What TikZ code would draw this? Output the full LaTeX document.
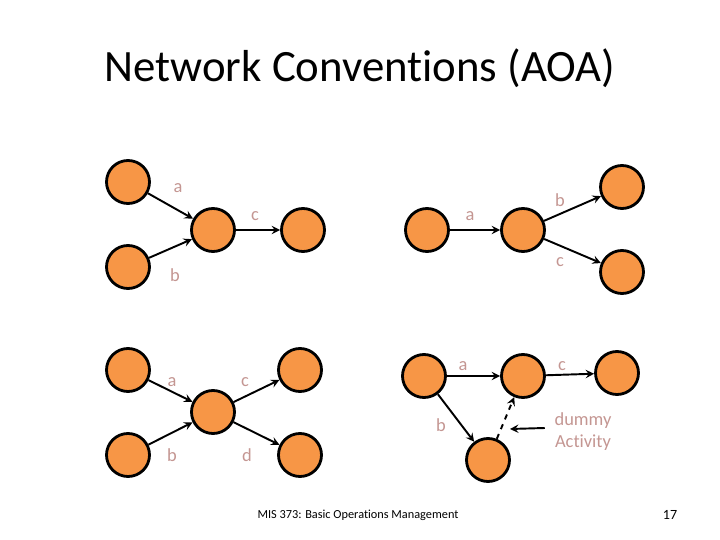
\documentclass[tikz,border=0pt]{standalone}
\usepackage{fontspec}
\setmainfont[Ligatures=NoCommon]{Carlito}
\definecolor{evfill}{RGB}{247,150,70}
\definecolor{lblcol}{RGB}{196,150,146}
\begin{document}
\begin{tikzpicture}
	[x=0.02cm,y=-0.02cm,line width=1.1pt,
	ev/.style = {
		draw, circle, fill=evfill, line width=1.6pt,
		minimum size=0.86cm, inner sep=0cm
	},
	act/.style = {
		->, >=stealth, line width=1.1pt
	},
	lbl/.style = {
		text=lblcol, font=\fontsize{10.5}{12.5}\selectfont
	}]
	\useasboundingbox (0,0) rectangle (720,540);

	%Title and footer
	\node at (360,68) (title) {\fontsize{25.5}{30}\selectfont Network Conventions (AOA)};
	\node at (358,515) (foot) {\fontsize{7}{8}\selectfont MIS 373: Basic Operations Management};
	\node at (670,515) (page) {\fontsize{8}{9}\selectfont 17};

	%Top left: merge
	\node[ev] at (128,182) (p1) {};
	\node[ev] at (128,267) (p2) {};
	\node[ev] at (213,230) (p3) {};
	\node[ev] at (303,230) (p4) {};
	\draw[act] (p1) -- (p3);
	\draw[act] (p2) -- (p3);
	\draw[act] (p3) -- (p4);
	\node[lbl] at (178,188) {a};
	\node[lbl] at (175,275) {b};
	\node[lbl] at (255,216) {c};

	%Top right: burst
	\node[ev] at (427,230) (q1) {};
	\node[ev] at (523,230) (q2) {};
	\node[ev] at (622,187) (q3) {};
	\node[ev] at (622,272) (q4) {};
	\draw[act] (q1) -- (q2);
	\draw[act] (q2) -- (q3);
	\draw[act] (q2) -- (q4);
	\node[lbl] at (470,216) {a};
	\node[lbl] at (560,200) {b};
	\node[lbl] at (560,262) {c};

	%Bottom left: merge and burst
	\node[ev] at (128,370) (r1) {};
	\node[ev] at (128,455) (r2) {};
	\node[ev] at (213,412) (r3) {};
	\node[ev] at (300,370) (r4) {};
	\node[ev] at (300,455) (r5) {};
	\draw[act] (r1) -- (r3);
	\draw[act] (r2) -- (r3);
	\draw[act] (r3) -- (r4);
	\draw[act] (r3) -- (r5);
	\node[lbl] at (172,382) {a};
	\node[lbl] at (245,382) {c};
	\node[lbl] at (172,455) {b};
	\node[lbl] at (247,455) {d};

	%Bottom right: dummy activity
	\node[ev] at (424,376) (s1) {};
	\node[ev] at (523,376) (s2) {};
	\node[ev] at (617,373) (s3) {};
	\node[ev] at (488,460) (s4) {};
	\draw[act] (s1) -- (s2);
	\draw[act] (s2) -- (s3);
	\draw[act] (s1) -- (s4);
	\draw[act,dashed] (s4) -- (s2);
	\node[lbl] at (463,366) {a};
	\node[lbl] at (562,366) {c};
	\node[lbl] at (441,425) {b};
	\node[lbl,align=center] at (583,432) (dum) {dummy\\Activity};
	\coordinate (dtip) at (510,429);
	\draw[act] (dum.west) ++(-3,-4) coordinate (dtail) -- (dtip);
\end{tikzpicture}
\end{document}
